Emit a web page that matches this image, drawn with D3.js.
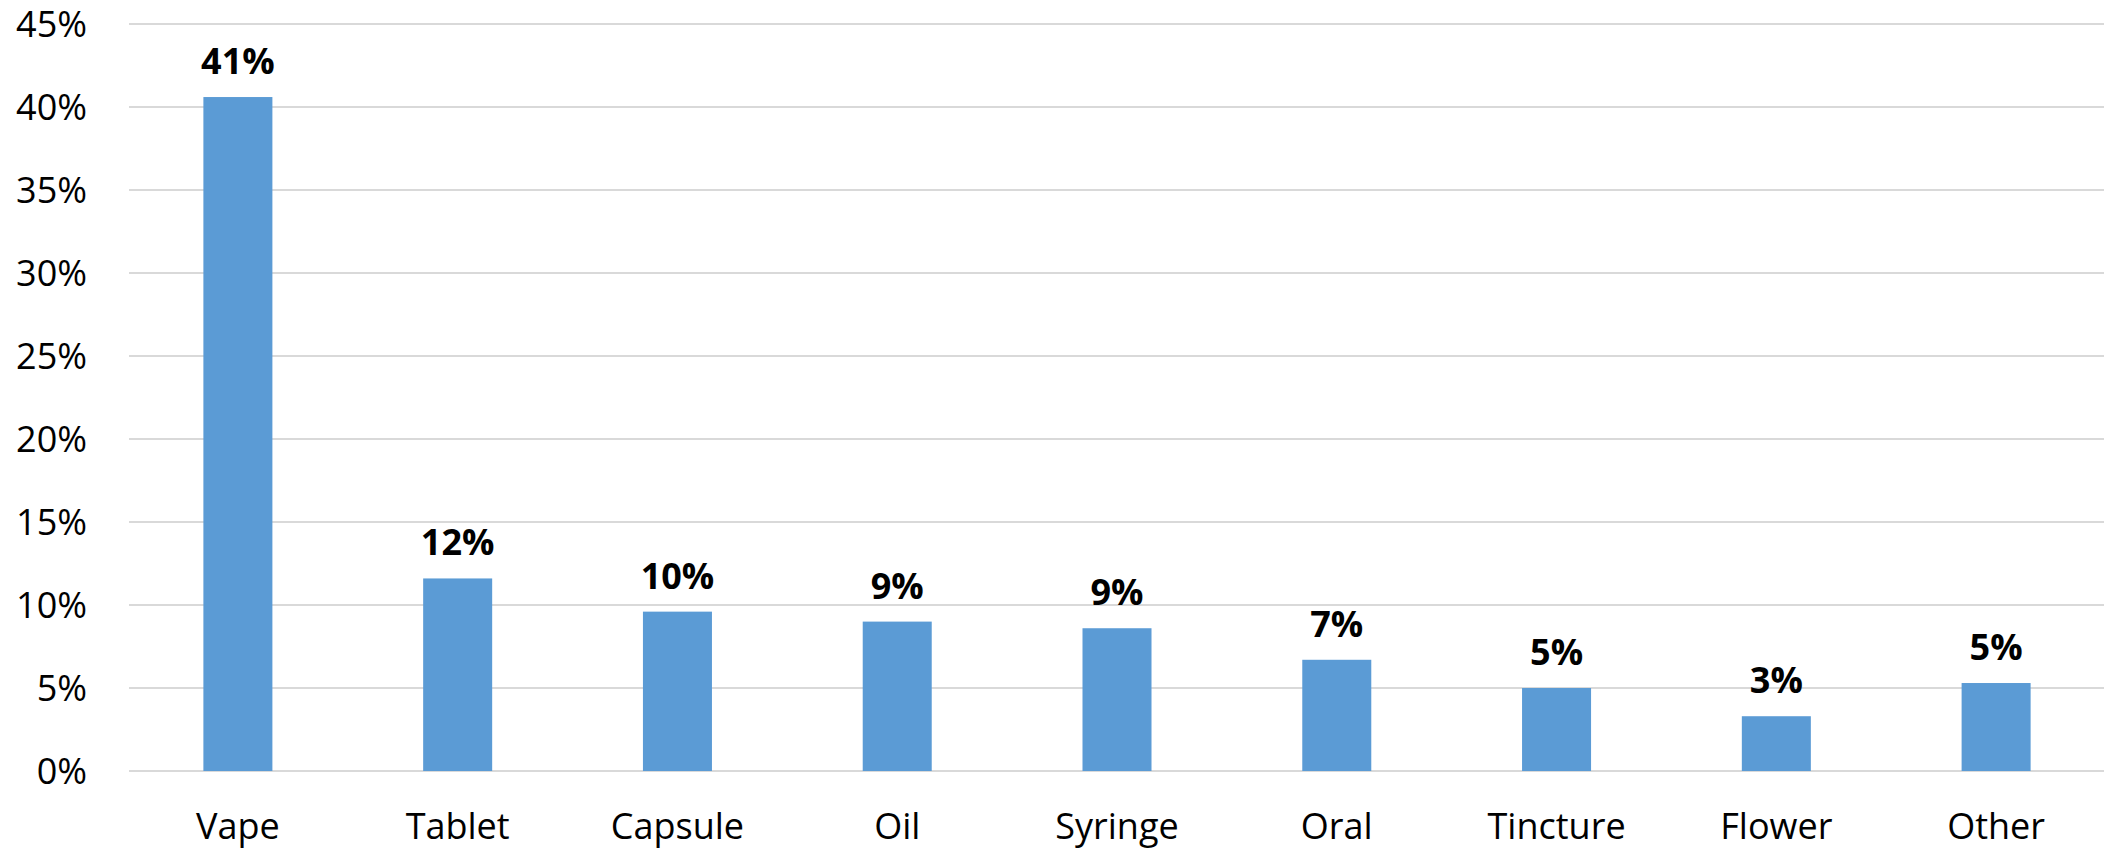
<!DOCTYPE html>
<html>
<head>
<meta charset="utf-8">
<script src="https://cdn.jsdelivr.net/npm/d3@7"></script>
<style>
  html, body { margin: 0; padding: 0; background: #fff; }
  svg { display: block; }
  text { font-family: "Open Sans", sans-serif; }
</style>
</head>
<body>
<svg id="chart" width="2104" height="849"></svg>
<script>
// Share of products by form (fractions of 1)
const categories = ["Vape", "Tablet", "Capsule", "Oil", "Syringe", "Oral", "Tincture", "Flower", "Other"];
const shares = [0.406, 0.116, 0.096, 0.090, 0.086, 0.067, 0.050, 0.033, 0.053];
const yTicks = [0, 0.05, 0.10, 0.15, 0.20, 0.25, 0.30, 0.35, 0.40, 0.45];

const W = 2104, H = 849;
const plot = { left: 128, right: 2106, top: 24, bottom: 771 };

const svg = d3.select("#chart");

const x = d3.scaleBand()
  .domain(categories)
  .range([plot.left, plot.right])
  .padding(0);

const y = d3.scaleLinear()
  .domain([0, 0.45])
  .range([plot.bottom, plot.top]);

const barW = x.bandwidth() * 0.314;
const pct = d3.format(".0%");

// horizontal gridlines
svg.append("g")
  .selectAll("line")
  .data(yTicks)
  .join("line")
  .attr("x1", plot.left + 1)
  .attr("x2", W)
  .attr("y1", d => y(d))
  .attr("y2", d => y(d))
  .attr("stroke", "#d9d9d9")
  .attr("stroke-width", 2);

// y axis labels
const yAxis = d3.axisLeft(y).tickValues(yTicks).tickFormat(pct).tickSize(0).tickPadding(0);
const gy = svg.append("g")
  .attr("transform", `translate(87,0)`)
  .call(yAxis);
gy.select(".domain").remove();
gy.selectAll("text")
  .attr("font-family", "'Open Sans', sans-serif")
  .attr("font-size", 36)
  .attr("fill", "#000")
  .attr("x", 0)
  .attr("dy", "0.357em");

// bars
svg.append("g")
  .selectAll("rect")
  .data(categories)
  .join("rect")
  .attr("x", (d) => x(d) + x.bandwidth() / 2 - barW / 2)
  .attr("width", barW)
  .attr("y", (d, i) => y(shares[i]))
  .attr("height", (d, i) => y(0) - y(shares[i]))
  .attr("fill", "#5b9bd5");

// value labels
svg.append("g")
  .selectAll("text")
  .data(categories)
  .join("text")
  .attr("x", d => x(d) + x.bandwidth() / 2)
  .attr("y", (d, i) => y(shares[i]) - 23)
  .attr("text-anchor", "middle")
  .attr("font-size", 36)
  .attr("font-weight", "bold")
  .attr("fill", "#000")
  .text((d, i) => pct(shares[i]));

// category labels
const xAxis = d3.axisBottom(x).tickSize(0).tickPadding(0);
const gx = svg.append("g")
  .attr("transform", `translate(0,${plot.bottom})`)
  .call(xAxis);
gx.select(".domain").remove();
gx.selectAll("text")
  .attr("font-family", "'Open Sans', sans-serif")
  .attr("font-size", 36)
  .attr("fill", "#000")
  .attr("y", 68)
  .attr("dy", 0);
</script>
</body>
</html>
